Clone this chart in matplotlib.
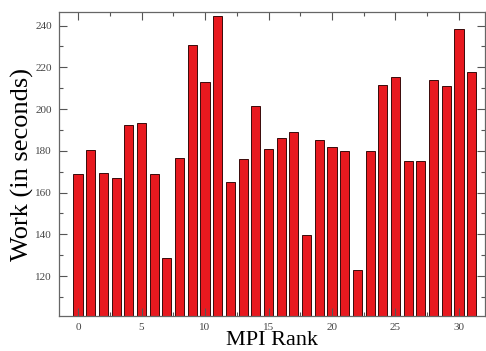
import numpy as np
import matplotlib
matplotlib.use('Agg')
import matplotlib.pyplot as plt
import matplotlib.ticker as ticker

plt.rcParams['font.family'] = ['Liberation Serif', 'DejaVu Serif']

# work per MPI rank
ranks = list(range(32))
work = [168.8, 180.2, 169.3, 166.8, 192.3, 193.1, 168.8, 128.9,
        176.6, 230.7, 213.2, 244.6, 165.1, 176.2, 201.4, 180.8,
        186.2, 188.8, 139.8, 185.1, 181.8, 179.8, 122.7, 179.8,
        211.6, 215.4, 174.9, 174.9, 214.0, 211.0, 238.2, 218.0]

x_label = 'MPI Rank'
y_label = 'Work (in seconds)'


def plot_work(ranks, work):
  fig = plt.figure(figsize=(4.86, 3.51), dpi=100)
  ax = fig.add_axes([0.1208, 0.0997, 0.8772, 0.8661])
  ax.bar(ranks, work, width=0.72, bottom=0, color='#e8191f',
         edgecolor='#3a0a0a', linewidth=0.7, zorder=1)
  ax.set_xlim(-1.52, 32.05)
  ax.set_ylim(100.9, 246.5)
  ax.xaxis.set_major_locator(ticker.MultipleLocator(5))
  ax.xaxis.set_minor_locator(ticker.MultipleLocator(2.5))
  ax.yaxis.set_major_locator(ticker.MultipleLocator(20))
  ax.yaxis.set_minor_locator(ticker.MultipleLocator(10))
  ax.yaxis.set_major_formatter(ticker.FuncFormatter(
      lambda v, p: '' if v < 110 else '%d' % v))
  ax.tick_params(which='both', direction='in', top=True, right=True,
                 colors='#555555', labelcolor='#444444', labelsize=8,
                 width=0.8)
  ax.tick_params(which='major', length=6, pad=5)
  ax.tick_params(which='minor', length=3)
  for s in ax.spines.values():
    s.set_color('#666666')
    s.set_linewidth(0.9)
  ax.set_xlabel(x_label, fontsize=16, labelpad=-1)
  ax.set_ylabel(y_label, fontsize=19, labelpad=1)
  fig.savefig('out.png', dpi=100)


plot_work(ranks, work)
